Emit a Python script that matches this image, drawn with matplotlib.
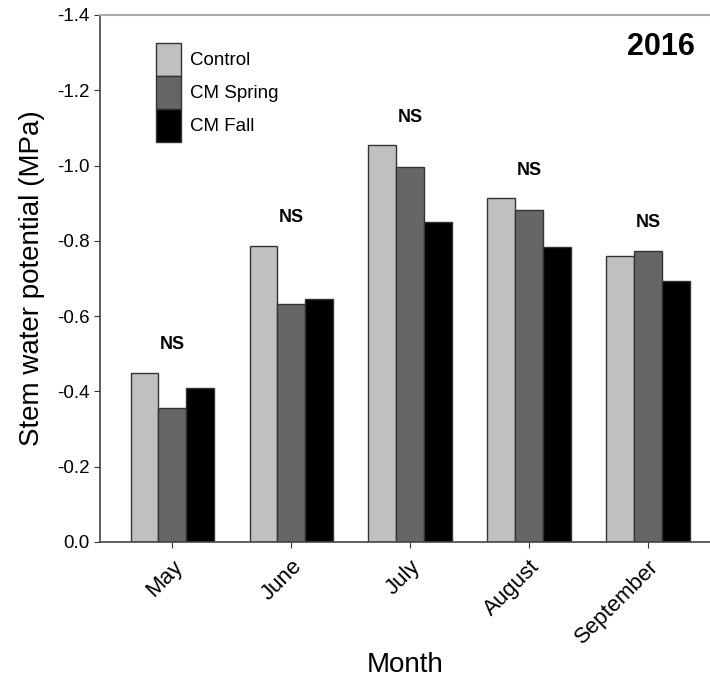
import numpy as np
import matplotlib.pyplot as plt
from matplotlib.ticker import FormatStrFormatter

plt.rcParams['font.family'] = ['Liberation Sans', 'DejaVu Sans']
plt.rcParams['axes.unicode_minus'] = False

# Data (stem water potential, MPa)
months = ["May", "June", "July", "August", "September"]
control = [-0.450, -0.787, -1.054, -0.913, -0.760]
cm_spring = [-0.357, -0.631, -0.995, -0.882, -0.774]
cm_fall = [-0.410, -0.645, -0.850, -0.784, -0.694]
sig_labels = ["NS", "NS", "NS", "NS", "NS"]

series = [("Control", control, "#c0c0c0"),
          ("CM Spring", cm_spring, "#666666"),
          ("CM Fall", cm_fall, "#000000")]

fig = plt.figure(figsize=(7.1, 6.8), dpi=100)
ax = fig.add_axes([0.141, 0.203, 0.859, 0.775])

x = np.arange(len(months))
width = 0.234
for i, (name, vals, color) in enumerate(series):
    ax.bar(x + (i - 1) * width, vals, width, color=color,
           edgecolor="#333333", linewidth=1.0, label=name)

# NS labels above each group
tops = np.min([control, cm_spring, cm_fall], axis=0)
for xi, top, lab in zip(x, tops, sig_labels):
    ax.text(xi, top - 0.052, lab, ha="center", va="bottom",
            fontsize=13, fontweight="bold")

ax.set_ylim(0, -1.4)
ax.set_xlim(-0.607, 4.52)
ax.set_yticks(np.arange(0, -1.41, -0.2))
ax.yaxis.set_major_formatter(FormatStrFormatter("%.1f"))
ax.set_xticks(x)
ax.set_xticklabels(months, rotation=45, ha="right", va="top",
                   rotation_mode="anchor", fontsize=16)
ax.tick_params(axis="y", labelsize=13.5, length=4, color="#333333")
ax.tick_params(axis="x", length=4, pad=6, color="#333333")

ax.spines["right"].set_visible(False)
ax.spines["top"].set_color("#aaaaaa")
ax.spines["top"].set_linewidth(1.5)
ax.spines["left"].set_color("#444444")
ax.spines["bottom"].set_color("#444444")
ax.spines["left"].set_linewidth(1.2)
ax.spines["bottom"].set_linewidth(1.2)

ax.set_ylabel("Stem water potential (MPa)", fontsize=20, labelpad=9)
ax.set_xlabel("Month", fontsize=20, labelpad=3)

ax.text(0.975, 0.968, "2016", transform=ax.transAxes, ha="right",
        va="top", fontsize=22, fontweight="bold")

ax.legend(loc="upper left", bbox_to_anchor=(0.076, 0.965), frameon=False,
          fontsize=13.5, handlelength=1.36, handleheight=2.33,
          labelspacing=0, handletextpad=0.45, borderpad=0)

fig.savefig("out.png", dpi=100)
